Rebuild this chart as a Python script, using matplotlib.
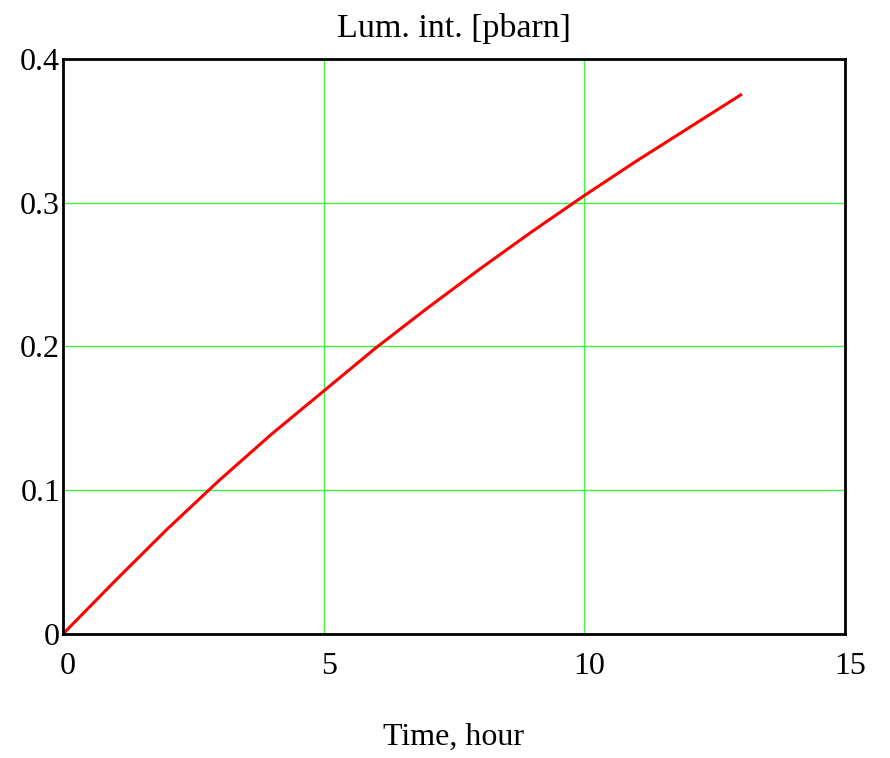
import numpy as np
import matplotlib
matplotlib.use("Agg")
import matplotlib.pyplot as plt
import matplotlib.transforms as mtransforms

# integrated luminosity vs time
time_h = [0, 1, 2, 3, 4, 5, 6, 7, 8, 9, 10, 11, 12, 13]
lum_int = [0, 0.037, 0.073, 0.107, 0.139, 0.169, 0.199, 0.227, 0.254, 0.280, 0.305, 0.329, 0.352, 0.375]

plt.rcParams['font.family'] = ['Liberation Serif', 'DejaVu Serif']

fig = plt.figure(figsize=(8.9, 7.58), dpi=100)
ax = fig.add_axes([0.0708, 0.1636, 0.8786, 0.7586])

ax.plot(time_h, lum_int, color='red', linewidth=2.2)

ax.set_xlim(0, 15)
ax.set_ylim(0, 0.4)
ax.set_xticks([0, 5, 10, 15])
ax.set_xticklabels(['0', '5', '10', '15'])
ax.set_yticks([0, 0.1, 0.2, 0.3, 0.4])
ax.set_yticklabels(['0', '0.1', '0.2', '0.3', '0.4'])
ax.grid(True, color='#44ee44', linewidth=1)
ax.tick_params(length=0, labelsize=23)
ax.tick_params(axis='y', pad=2)
ax.tick_params(axis='x', pad=13)
for s in ax.spines.values():
    s.set_linewidth(2)
    s.set_color('black')

# x labels sit a bit to the right of their grid lines in the original
shift = mtransforms.ScaledTranslation(5 / 100, 0, fig.dpi_scale_trans)
for lab in ax.get_xticklabels():
    lab.set_transform(lab.get_transform() + shift)

ax.set_title('Lum. int. [pbarn]', fontsize=24.5, pad=16)
ax.set_xlabel('Time, hour', fontsize=23, labelpad=30)

fig.savefig('out.png', dpi=100)
